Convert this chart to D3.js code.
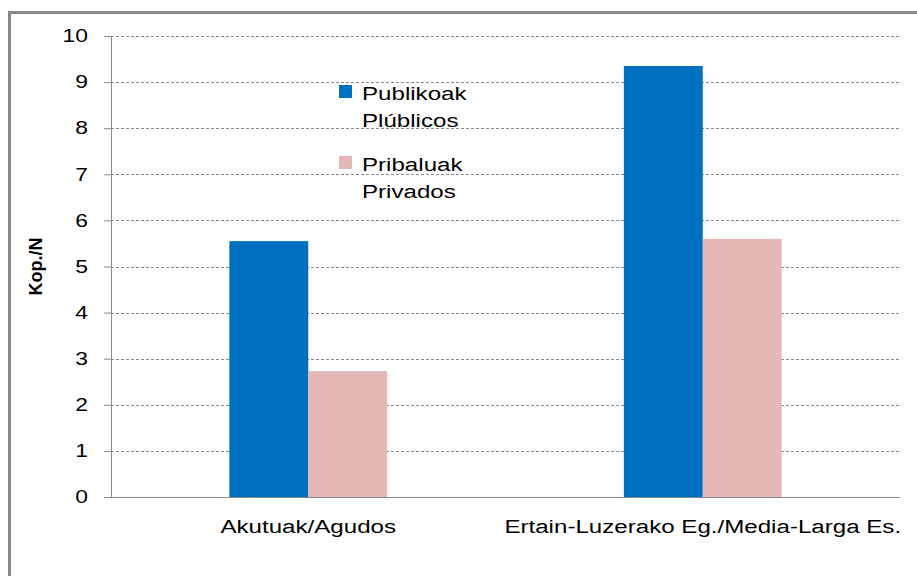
<!DOCTYPE html>
<html>
<head>
<meta charset="utf-8">
<script src="https://cdn.jsdelivr.net/npm/d3@7"></script>
<style>
  body { margin: 0; background: #fff; }
  svg { display: block; font-family: "Liberation Sans", Arial, sans-serif; }
  .grid line { stroke: #8a8a8a; stroke-dasharray: 3,2; }
</style>
</head>
<body>
<svg width="917" height="576"></svg>
<script>
var categories = ["Akutuak/Agudos", "Ertain-Luzerako Eg./Media-Larga Es."];
var publicValues = [5.55, 9.35];
var privateValues = [2.73, 5.6];
var seriesNames = [["Publikoak", "Plúblicos"], ["Pribaluak", "Privados"]];
var seriesColors = ["#0070c0", "#e5b8b7"];
var yTicks = [0, 1, 2, 3, 4, 5, 6, 7, 8, 9, 10];

// the original picture is a little wider than tall, so text gets stretched
var stretch = 1.27;
function widen(sel, ax) {
  sel.attr("transform", function() {
    var x = ax != null ? ax : +d3.select(this).attr("x") || 0;
    return "translate(" + x + ",0) scale(" + stretch + ",1) translate(" + (-x) + ",0)";
  });
}

var svg = d3.select("svg");
var margin = {left: 111, right: 17, top: 36, bottom: 79};
var width = 917 - margin.left - margin.right,
    height = 576 - margin.top - margin.bottom;

// frame round the chart
svg.append("rect")
  .attr("x", 9.5).attr("y", 12.5)
  .attr("width", 940).attr("height", 600)
  .attr("fill", "none").attr("stroke", "#878787").attr("stroke-width", 3);

var g = svg.append("g").attr("transform", "translate(" + margin.left + "," + margin.top + ")");

var x0 = d3.scaleBand().domain(categories).range([0, width])
  .paddingInner(0.6).paddingOuter(0.3);
var x1 = d3.scaleBand().domain([0, 1]).range([0, x0.bandwidth()]);
var y = d3.scaleLinear().domain([0, 10]).range([height, 0]);

// gridlines
g.append("g").attr("class", "grid")
  .selectAll("line").data(yTicks.slice(1)).enter().append("line")
  .attr("x1", 0).attr("x2", width)
  .attr("y1", function(d) { return Math.round(y(d)) + 0.5; })
  .attr("y2", function(d) { return Math.round(y(d)) + 0.5; });

var data = categories.map(function(c, i) { return [publicValues[i], privateValues[i]]; });

g.append("g").selectAll("g").data(data).enter().append("g")
  .attr("transform", function(d, i) { return "translate(" + x0(categories[i]) + ",0)"; })
  .selectAll("rect").data(function(d) { return d; }).enter().append("rect")
  .attr("x", function(d, i) { return x1(i); })
  .attr("width", x1.bandwidth())
  .attr("y", function(d) { return y(d); })
  .attr("height", function(d) { return height - y(d); })
  .attr("fill", function(d, i) { return seriesColors[i]; });

// y axis
var yAxis = g.append("g")
  .call(d3.axisLeft(y).tickValues(yTicks).tickSize(7).tickPadding(16));
yAxis.selectAll("path, line").attr("stroke", "#888");
yAxis.select(".domain").attr("d", "M0.5," + height + "V0");
yAxis.selectAll("text").attr("font-size", 18).attr("fill", "#000").call(widen);

// x axis
var xAxis = g.append("g").attr("transform", "translate(0," + height + ")")
  .call(d3.axisBottom(x0).tickSize(0).tickPadding(23));
xAxis.select(".domain").attr("stroke", "#888").attr("d", "M-7,0.5H" + width);
xAxis.selectAll("text").attr("font-size", 19).attr("fill", "#000").call(widen, 0);

// y label
svg.append("text")
  .attr("transform", "translate(42," + (margin.top + height / 2) + ") rotate(-90)")
  .attr("text-anchor", "middle")
  .attr("font-size", 18).attr("font-weight", "bold")
  .text("Kop./N");

// legend
var legend = svg.append("g").attr("transform", "translate(339,85)");
seriesNames.forEach(function(names, i) {
  var lg = legend.append("g").attr("transform", "translate(0," + (i * 71) + ")");
  lg.append("rect").attr("width", 13).attr("height", 13).attr("fill", seriesColors[i]);
  names.forEach(function(t, j) {
    lg.append("text").attr("x", 23).attr("y", 15 + j * 27)
      .attr("font-size", 19).attr("fill", "#000").text(t)
      .call(widen);
  });
});
</script>
</body>
</html>
